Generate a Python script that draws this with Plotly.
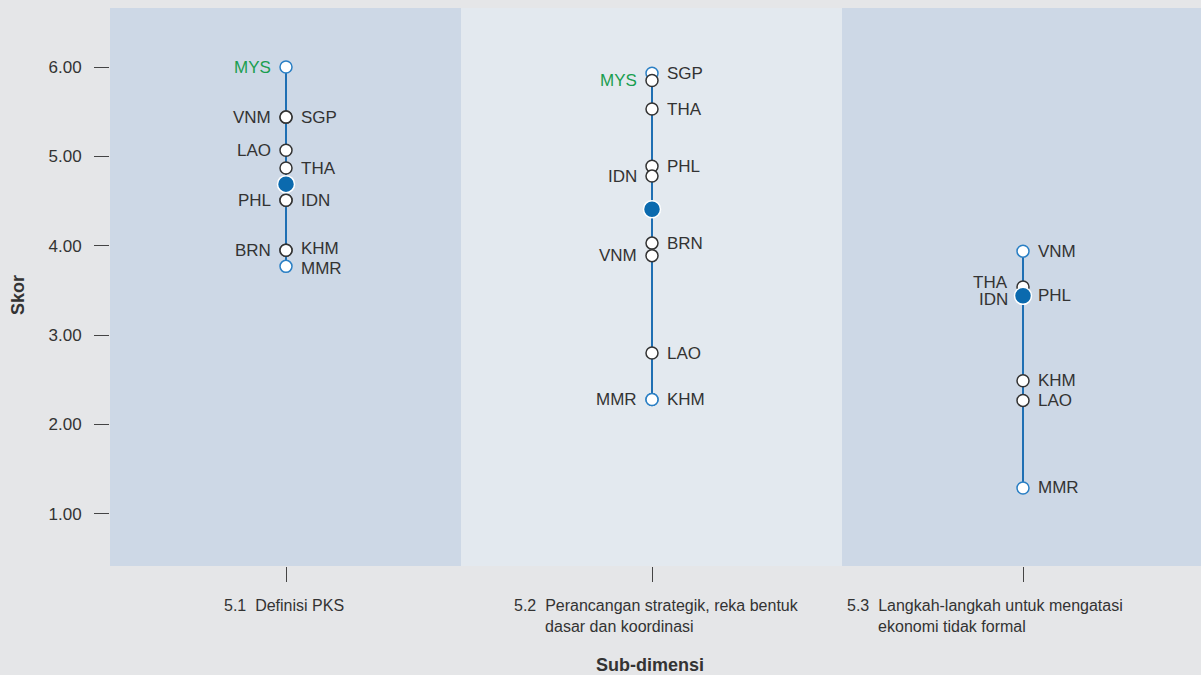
import plotly.graph_objects as go

# ---------------- data ----------------
subdim_lines = [
    ["5.1\u00a0\u00a0Definisi PKS"],
    ["5.2\u00a0\u00a0Perancangan strategik, reka bentuk", "dasar dan koordinasi"],
    ["5.3\u00a0\u00a0Langkah-langkah untuk mengatasi", "ekonomi tidak formal"],
]

countries_51 = ["MYS", "VNM", "SGP", "LAO", "THA", "PHL", "IDN", "BRN", "KHM", "MMR"]
scores_51 = [6.00, 5.44, 5.44, 5.07, 4.87, 4.51, 4.51, 3.95, 3.95, 3.77]
mean_51 = 4.69

countries_52 = ["SGP", "MYS", "THA", "PHL", "IDN", "BRN", "VNM", "LAO", "MMR", "KHM"]
scores_52 = [5.93, 5.85, 5.53, 4.89, 4.78, 4.03, 3.89, 2.80, 2.28, 2.28]
mean_52 = 4.41

countries_53 = ["VNM", "THA", "IDN", "PHL", "KHM", "LAO", "MMR"]
scores_53 = [3.94, 3.54, 3.44, 3.44, 2.49, 2.27, 1.29]
mean_53 = 3.44

y_ticks = [1, 2, 3, 4, 5, 6]
y_tick_text = ["1.00", "2.00", "3.00", "4.00", "5.00", "6.00"]

# label side per country (layout only)
label_side = [
    {"MYS": "L", "VNM": "L", "SGP": "R", "LAO": "L", "THA": "R", "PHL": "L",
     "IDN": "R", "BRN": "L", "KHM": "R", "MMR": "R"},
    {"SGP": "R", "MYS": "L", "THA": "R", "PHL": "R", "IDN": "L", "BRN": "R",
     "VNM": "L", "LAO": "R", "MMR": "L", "KHM": "R"},
    {"VNM": "R", "THA": "L", "IDN": "L", "PHL": "R", "KHM": "R", "LAO": "R",
     "MMR": "R"},
]
label_nudge = [{"KHM": 2, "MMR": -2}, {}, {"THA": 4, "IDN": -4}]

# ---------------- layout constants ----------------
panel_edges = [0, 351, 732, 1091]
centers = [176, 542, 913]
label_left = [112, 402, 735]
panel_colors = ["#cdd8e6", "#e3e9ef", "#cdd8e6"]
PAPER = "#e5e6e8"
BLUE_LINE = "#1f6fb3"
BLUE_FILL = "#0b6aae"
DARK = "#333333"
GREEN = "#1a9e50"
FONT = "Liberation Sans, Arial, sans-serif"

groups = [
    (countries_51, scores_51, mean_51),
    (countries_52, scores_52, mean_52),
    (countries_53, scores_53, mean_53),
]

fig = go.Figure()
annotations = []

for gi, (ctrs, vals, mean) in enumerate(groups):
    cx = centers[gi]
    vmin, vmax = min(vals), max(vals)
    # vertical range line
    fig.add_trace(go.Scatter(
        x=[cx, cx], y=[vmin, vmax], mode="lines",
        line=dict(color=BLUE_LINE, width=2), hoverinfo="skip", showlegend=False))
    # extreme markers (blue outline)
    ext = [(c, v) for c, v in zip(ctrs, vals) if v in (vmin, vmax)]
    fig.add_trace(go.Scatter(
        x=[cx] * len(ext), y=[v for _, v in ext], mode="markers",
        marker=dict(size=12, color="white", line=dict(color="#2a7fc4", width=1.5)),
        text=[c for c, _ in ext], hoverinfo="text+y", showlegend=False))
    # regular markers
    reg = [(c, v) for c, v in zip(ctrs, vals) if v not in (vmin, vmax)]
    fig.add_trace(go.Scatter(
        x=[cx] * len(reg), y=[v for _, v in reg], mode="markers",
        marker=dict(size=12, color="white", line=dict(color=DARK, width=1.5)),
        text=[c for c, _ in reg], hoverinfo="text+y", showlegend=False))
    # mean
    fig.add_trace(go.Scatter(
        x=[cx], y=[mean], mode="markers",
        marker=dict(size=17, color=BLUE_FILL, line=dict(color="white", width=1.5)),
        hoverinfo="y", showlegend=False))
    # labels
    for c, v in zip(ctrs, vals):
        side = label_side[gi][c]
        annotations.append(dict(
            x=cx, y=v, xref="x", yref="y", text=c, showarrow=False,
            xanchor="left" if side == "R" else "right",
            xshift=13 if side == "R" else -13,
            yshift=label_nudge[gi].get(c, 0),
            font=dict(family=FONT, size=17, color=GREEN if c == "MYS" else DARK)))
    # x category label
    lines = subdim_lines[gi]
    txt = lines[0]
    if len(lines) > 1:
        txt += "<br>" + "\u00a0" * 7 + lines[1]
    annotations.append(dict(
        x=label_left[gi], y=0, xref="x", yref="paper", text=txt, showarrow=False,
        xanchor="left", yanchor="top", yshift=-29, align="left",
        font=dict(family=FONT, size=16, color=DARK)))

# axis titles
annotations.append(dict(
    x=0.5, y=0, xref="paper", yref="paper", text="<b>Sub-dimensi</b>",
    showarrow=False, xanchor="center", yanchor="middle", yshift=-99, xshift=-6,
    font=dict(family=FONT, size=18, color=DARK)))
annotations.append(dict(
    x=0, y=0.5, xref="paper", yref="paper", text="<b>Skor</b>", textangle=-90,
    showarrow=False, xanchor="center", yanchor="middle", xshift=-92, yshift=-8,
    font=dict(family=FONT, size=18, color=DARK)))

shapes = []
for i in range(3):
    shapes.append(dict(
        type="rect", xref="x", yref="paper",
        x0=panel_edges[i], x1=panel_edges[i + 1], y0=0, y1=1,
        fillcolor=panel_colors[i], line=dict(width=0), layer="below"))

fig.update_layout(
    width=1201, height=675,
    margin=dict(l=110, r=0, t=8, b=109),
    paper_bgcolor=PAPER, plot_bgcolor=PAPER,
    shapes=shapes, annotations=annotations,
    font=dict(family=FONT, color=DARK),
    xaxis=dict(
        range=[panel_edges[0], panel_edges[-1]], tickvals=centers,
        ticktext=["", "", ""], ticks="outside", ticklen=15, tickwidth=1,
        tickcolor="#444444", showgrid=False, zeroline=False, showline=False,
        fixedrange=True),
    yaxis=dict(
        range=[0.417, 6.661], tickvals=y_ticks, ticktext=y_tick_text,
        ticks="outside", ticklen=15, tickwidth=1, tickcolor="#444444",
        ticklabelstandoff=9, tickfont=dict(family=FONT, size=17, color=DARK),
        showgrid=False, zeroline=False, showline=False, fixedrange=True),
    hovermode="closest",
)

fig.write_html(
    "out.html",
    config={"displayModeBar": False},
    post_script="document.body.style.margin='0';document.body.style.background='%s';" % PAPER,
)
